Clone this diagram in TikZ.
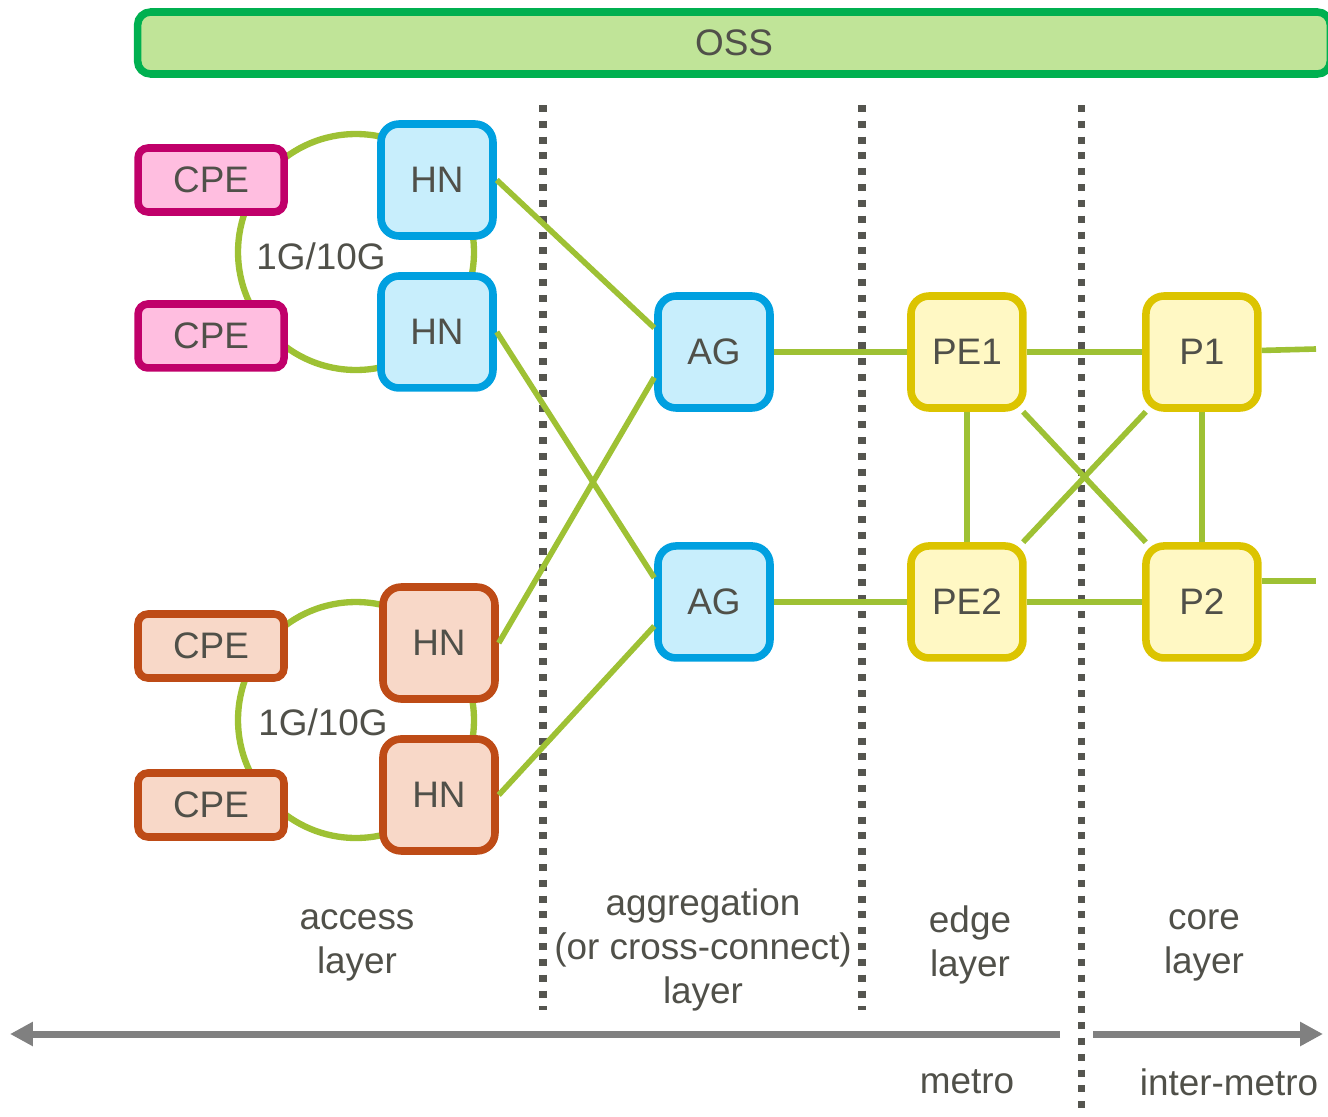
\documentclass[tikz,border=0pt]{standalone}
\usepackage{fontspec}
\setmainfont{Liberation Sans}
\usepackage{xcolor}
\usepackage{tikz}
\usetikzlibrary{positioning,calc,arrows.meta}

\definecolor{linkgreen}{HTML}{9EC134}
\definecolor{txtgray}{HTML}{505049}
\definecolor{dotgray}{HTML}{55554F}
\definecolor{ossline}{HTML}{00B050}
\definecolor{ossfill}{HTML}{C0E498}
\definecolor{cpeline}{HTML}{C0006A}
\definecolor{cpefill}{HTML}{FFBEE0}
\definecolor{hnline}{HTML}{00A0E0}
\definecolor{hnfill}{HTML}{C8EEFC}
\definecolor{orline}{HTML}{BE4B16}
\definecolor{orfill}{HTML}{F8D8C8}
\definecolor{peline}{HTML}{DCC400}
\definecolor{pefill}{HTML}{FFF8C4}
\definecolor{spangray}{HTML}{808080}

\begin{document}
\begin{tikzpicture}[x=0.02cm, y=-0.02cm,
    font=\fontsize{21}{25}\selectfont, text=txtgray,
    net block/.style={draw, rectangle, line width=4.3pt, rounded corners=0.36cm, minimum width=2.24cm, minimum height=2.24cm, inner sep=0pt, align=center},
    cpe block/.style={net block, rounded corners=0.2cm, minimum width=2.92cm, minimum height=1.28cm},
    pink/.style={draw=cpeline, fill=cpefill},
    blue/.style={draw=hnline, fill=hnfill},
    rust/.style={draw=orline, fill=orfill},
    gold/.style={draw=peline, fill=pefill},
    link/.style={draw=linkgreen, line width=3.2pt},
    ring/.style={draw=linkgreen, line width=3.6pt},
    sep line/.style={draw=dotgray, line width=4pt, dash pattern=on 4pt off 5pt},
    span arrow/.style={draw=spangray, line width=4pt, -{Triangle[length=13pt, width=13pt]}},
    layer text/.style={align=center}]
    \useasboundingbox (0,0) rectangle (1328,1116);

    \draw[sep line] (543,105) -- (543,1010);
    \draw[sep line] (862,105) -- (862,1010);
    \draw[sep line] (1081,105) -- (1081,1116);

    \node[net block, draw=ossline, fill=ossfill, rounded corners=0.26cm, minimum width=23.86cm, minimum height=1.24cm] (oss) at (734,43) {OSS};

    \draw[ring] (356,252) circle (2.36cm);
    \draw[ring] (356,720) circle (2.36cm);

    \node[net block, blue] (hn1) at (437,180) {HN};
    \node[net block, blue, below of=hn1, node distance=3.04cm] (hn2) {HN};
    \node[cpe block, pink, left of=hn1, node distance=4.52cm] (cpe1) {CPE};
    \node[cpe block, pink, below of=cpe1, node distance=3.12cm] (cpe2) {CPE};
    \node at (321,256) (ring1) {1G/10G};

    \node[net block, rust] (hn3) at (439,643) {HN};
    \node[net block, rust, below of=hn3, node distance=3.04cm] (hn4) {HN};
    \node[cpe block, rust] (cpe3) at (211,646) {CPE};
    \node[cpe block, rust, below of=cpe3, node distance=3.18cm] (cpe4) {CPE};
    \node at (323,722) (ring2) {1G/10G};

    \node[net block, blue] (ag1) at (714,352) {AG};
    \node[net block, blue, below of=ag1, node distance=5cm] (ag2) {AG};
    \node[net block, gold, right of=ag1, node distance=5.06cm] (pe1) {PE1};
    \node[net block, gold, below of=pe1, node distance=5cm] (pe2) {PE2};
    \node[net block, gold, right of=pe1, node distance=4.7cm] (p1) {P1};
    \node[net block, gold, below of=p1, node distance=5cm] (p2) {P2};
    \coordinate (p1out) at (1316,349);
    \coordinate (p2out) at (1316,581);

    \draw[link] (hn1.east) -- (ag1.158);
    \draw[link] (hn2.east) -- (ag2.158);
    \draw[link] (hn3.east) -- (ag1.-157);
    \draw[link] (hn4.east) -- (ag2.-158);
    \draw[link] (ag1) -- (pe1);
    \draw[link] (ag2) -- (pe2);
    \draw[link] (pe1) -- (p1);
    \draw[link] (pe2) -- (p2);
    \draw[link] (pe1) -- (pe2);
    \draw[link] (p1) -- (p2);
    \draw[link] (pe1) -- (p2);
    \draw[link] (pe2) -- (p1);
    \draw[link] (p1) -- (p1out);
    \draw[link] (p2out -| p2.east) -- (p2out);

    \node[layer text] (access) at (357,945) {access\\layer};
    \node[layer text] (aggr) at (703,950) {aggregation\\(or cross-connect)\\layer};
    \node[layer text] (edge) at (970,945) {edge\\layer};
    \node[layer text] (core) at (1204,945) {core\\layer};
    \node (metro) at (967,1082) {metro};
    \node (inter) at (1229,1082) {inter-metro};

    \coordinate (metroR) at (1060,1034);
    \coordinate (metroL) at (10,1034);
    \coordinate (interL) at (1093,1034);
    \coordinate (interR) at (1323,1034);
    \draw[span arrow] (metroR) -- (metroL);
    \draw[span arrow] (interL) -- (interR);

\end{tikzpicture}
\end{document}
